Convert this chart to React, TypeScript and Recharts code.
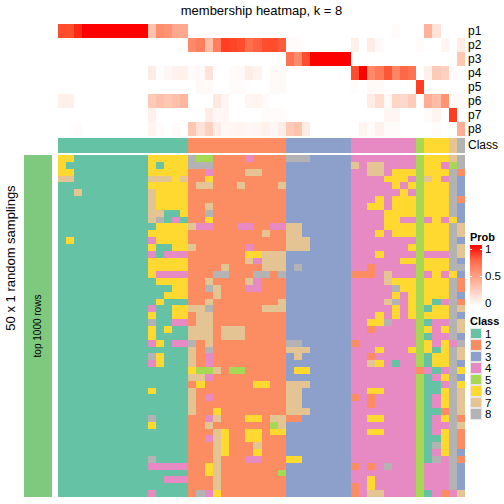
import React from "react";
import { ScatterChart, Scatter, XAxis, YAxis } from "recharts";

const FONT = "'Liberation Sans', Arial, Helvetica, sans-serif";

// membership probability of each sample (50 columns) for classes 1..8
const p1 = [0.85, 0.85, 0.95, 1, 1, 1, 1, 1, 1, 1, 1, 0.32, 0.58, 0.55, 0.45, 0.45, 0, 0, 0, 0, 0, 0, 0, 0, 0, 0, 0, 0, 0, 0, 0, 0, 0, 0, 0, 0, 0, 0, 0, 0, 0, 0.02, 0, 0, 0, 0.4, 0.15, 0, 0, 0];
const p2 = [0, 0, 0, 0, 0, 0, 0, 0, 0, 0, 0, 0, 0, 0, 0, 0, 0.6, 0.65, 0.35, 0.65, 0.9, 0.88, 0.85, 0.72, 0.78, 0.85, 0.85, 0.8, 0.02, 0.02, 0, 0, 0, 0, 0, 0, 0.08, 0, 0.1, 0.03, 0, 0, 0, 0, 0.02, 0, 0, 0.05, 0, 0.1];
const p3 = [0, 0, 0, 0, 0, 0, 0, 0, 0, 0, 0, 0, 0, 0, 0, 0, 0, 0, 0, 0, 0, 0, 0, 0, 0, 0, 0, 0, 0.7, 0.6, 0.85, 1, 1, 1, 1, 1, 0, 0, 0, 0, 0, 0, 0, 0, 0, 0, 0, 0, 0, 0.3];
const p4 = [0, 0, 0, 0, 0, 0, 0, 0, 0, 0, 0, 0.1, 0.01, 0.04, 0.07, 0.07, 0.02, 0.03, 0.15, 0, 0, 0.02, 0.03, 0.1, 0.06, 0, 0.03, 0.03, 0, 0, 0, 0, 0, 0, 0, 0, 0.85, 1, 0.6, 0.68, 0.82, 0.62, 0.75, 0.7, 0, 0.08, 0.28, 0.25, 0.03, 0];
const p5 = [0, 0, 0, 0, 0, 0, 0, 0, 0, 0, 0, 0, 0, 0, 0, 0, 0, 0.03, 0.03, 0, 0, 0.02, 0.02, 0, 0, 0, 0.03, 0.03, 0, 0, 0, 0, 0, 0, 0, 0, 0.01, 0, 0.03, 0.03, 0, 0, 0, 0, 0.9, 0, 0, 0, 0, 0];
const p6 = [0.08, 0.08, 0, 0, 0, 0, 0, 0, 0, 0, 0, 0.28, 0.33, 0.3, 0.33, 0.38, 0, 0, 0, 0.12, 0.05, 0, 0, 0.05, 0.06, 0.02, 0, 0, 0, 0, 0, 0, 0, 0, 0, 0, 0, 0, 0.1, 0.18, 0.03, 0.22, 0.2, 0.27, 0, 0.42, 0.35, 0.55, 0.03, 0.03];
const p7 = [0, 0, 0, 0, 0, 0, 0, 0, 0, 0, 0, 0.08, 0, 0, 0, 0, 0, 0, 0.1, 0.04, 0.04, 0, 0, 0, 0, 0.02, 0.02, 0.02, 0, 0, 0, 0, 0, 0, 0, 0, 0, 0, 0, 0, 0.05, 0.05, 0, 0, 0, 0.02, 0.06, 0, 0.9, 0];
const p8 = [0, 0, 0.02, 0, 0, 0, 0, 0, 0, 0, 0, 0.06, 0.02, 0, 0.02, 0, 0.3, 0.15, 0.25, 0.1, 0.04, 0.05, 0.06, 0.04, 0.05, 0.07, 0.04, 0.1, 0.28, 0.32, 0.1, 0, 0, 0, 0, 0, 0, 0.06, 0.02, 0.07, 0.02, 0.02, 0, 0, 0, 0, 0.02, 0, 0, 0.42];

const probRows = [p1, p2, p3, p4, p5, p6, p7, p8];
const probLabels = ["p1", "p2", "p3", "p4", "p5", "p6", "p7", "p8"];

// consensus class of each column
const columnClass = [
  1, 1, 1, 1, 1, 1, 1, 1, 1, 1, 1, 1, 1, 1, 1, 1,
  2, 2, 2, 2, 2, 2, 2, 2, 2, 2, 2, 2,
  3, 3, 3, 3, 3, 3, 3, 3,
  4, 4, 4, 4, 4, 4, 4, 4,
  5, 6, 6, 6, 7, 8,
];

const classLabels = ["1", "2", "3", "4", "5", "6", "7", "8"];
const classColors = ["#66C2A5", "#FC8D62", "#8DA0CB", "#E78AC3", "#A6D854", "#FFD92F", "#E5C494", "#B3B3B3"];

// class assigned in each of the 50 random samplings (one string per sampling, one digit per column)
const samplingRows = [
  "66111111111 66666 855222242 222 88833333 44444444 5 666 7 8",
  "61111111111 61666 888222222 222 33333333 74774444 5 664 5 8",
  "66111111111 66666 224222277 222 33333333 44774666 5 666 8 2",
  "77111111111 77767 226222222 222 33333333 44446664 5 764 8 3",
  "11111111111 66666 277222722 227 33333333 44444646 5 666 8 3",
  "11711111111 76666 222222222 222 33333333 44444464 5 666 8 3",
  "11111111111 76666 222222222 222 33333333 44464666 5 666 8 2",
  "11111111111 76666 227222222 222 33333333 44664666 5 666 8 3",
  "11111111111 77116 228222222 222 33333333 44446666 5 666 8 3",
  "11111111111 78141 226222222 222 33333333 44446644 5 464 6 3",
  "11111111111 16666 744222442 244 77333333 44446666 5 666 8 7",
  "11111111111 66666 222222222 722 77333333 44464666 5 666 8 7",
  "16111111111 46666 222222222 222 77733333 44444444 5 666 8 3",
  "11111111111 61166 722222242 222 77733333 44444446 5 666 8 7",
  "11111111111 41444 222222266 777 33333333 44464444 5 444 8 7",
  "11111111111 66666 222222274 777 33333333 44444466 5 666 8 3",
  "11111111111 66666 222272222 777 38333333 44244444 5 666 8 8",
  "11111111111 64444 222882228 828 33333333 22247444 5 464 6 3",
  "11111111111 16666 227222274 222 33333333 44447666 5 666 8 2",
  "11111111111 11166 228722244 222 33333333 44444866 5 666 8 2",
  "11111111111 11666 222722222 222 33333333 44444646 5 666 8 3",
  "11111111111 16111 227222222 227 33333333 44447846 5 614 8 2",
  "11111111111 41166 778222222 777 33333333 44444646 5 166 8 7",
  "11111111111 61166 277222222 222 33333333 44464646 5 666 8 3",
  "11111111111 81144 277222222 222 33333333 44668444 5 144 8 7",
  "11111111111 61611 777277722 222 33333333 44244444 5 646 8 7",
  "11111111111 61111 777277722 222 33333333 44444444 5 144 8 3",
  "11111111111 46144 827222222 222 88333333 24444444 5 646 4 8",
  "11111111111 11111 728222222 222 77733333 44464446 5 616 8 7",
  "11111111111 86111 724222222 222 37333333 44244444 5 166 8 7",
  "11111111111 46111 724222222 222 33333333 44764144 5 166 8 3",
  "11111111111 11111 655725522 222 36633333 44444444 2 414 8 6",
  "11111111111 11111 774222222 222 33333333 44444444 5 146 8 3",
  "11111111111 11111 262222226 622 77733333 44444444 5 114 8 6",
  "11111111111 61111 722222222 222 77333333 44664444 5 116 8 7",
  "11111111111 11111 724222222 222 77333333 24244444 5 146 8 7",
  "11111111111 11111 722222222 222 77333333 44244444 5 146 8 7",
  "11111111111 11111 722622222 222 77733333 44444444 5 112 8 7",
  "11111111111 81111 224722266 277 22333333 44664444 5 146 8 2",
  "11111111111 61111 227222222 257 33333333 44444444 5 144 8 7",
  "11111111111 11111 222762266 266 33333333 44664444 5 146 8 2",
  "11111111111 11111 224762266 222 33333333 44444444 5 116 8 2",
  "11111111111 11111 222762227 222 33333333 44444444 5 186 8 2",
  "11111111111 11111 222762226 222 33333333 44444444 5 146 8 3",
  "11111111111 81111 222722244 222 66333333 44444444 5 184 8 2",
  "11111111111 44444 226722222 222 33333333 24248444 5 444 8 3",
  "11111111111 11111 226722222 225 33333333 44444444 5 444 8 3",
  "11111111111 11444 222722222 222 33333333 44644444 5 444 8 3",
  "11111111111 11111 222722222 222 33333333 24644444 5 444 8 3",
  "11111111111 41111 284622222 222 33333333 24774444 5 142 4 7",
];

// white -> red ramp interpolated in LAB, like colorRamp2
const toLin = (c: number) => {
  const v = c / 255;
  return v <= 0.04045 ? v / 12.92 : Math.pow((v + 0.055) / 1.055, 2.4);
};
const fromLin = (c: number) => {
  const v = c <= 0.0031308 ? 12.92 * c : 1.055 * Math.pow(Math.max(c, 0), 1 / 2.4) - 0.055;
  return Math.round(Math.max(0, Math.min(1, v)) * 255);
};
const labF = (t: number) => (t > 0.008856 ? Math.cbrt(t) : 7.787 * t + 16 / 116);
const labInv = (t: number) => (t * t * t > 0.008856 ? t * t * t : (t - 16 / 116) / 7.787);

function rgbToLab(r: number, g: number, b: number) {
  const R = toLin(r), G = toLin(g), B = toLin(b);
  const X = (0.4124 * R + 0.3576 * G + 0.1805 * B) / 0.95047;
  const Y = 0.2126 * R + 0.7152 * G + 0.0722 * B;
  const Z = (0.0193 * R + 0.1192 * G + 0.9505 * B) / 1.08883;
  const fx = labF(X), fy = labF(Y), fz = labF(Z);
  return [116 * fy - 16, 500 * (fx - fy), 200 * (fy - fz)];
}

function labToCss(L: number, a: number, b: number) {
  const fy = (L + 16) / 116;
  const fx = fy + a / 500;
  const fz = fy - b / 200;
  const X = labInv(fx) * 0.95047, Y = labInv(fy), Z = labInv(fz) * 1.08883;
  const R = 3.2406 * X - 1.5372 * Y - 0.4986 * Z;
  const G = -0.9689 * X + 1.8758 * Y + 0.0415 * Z;
  const B = 0.0557 * X - 0.204 * Y + 1.057 * Z;
  return `rgb(${fromLin(R)},${fromLin(G)},${fromLin(B)})`;
}

const labWhite = rgbToLab(255, 255, 255);
const labRed = rgbToLab(255, 0, 0);
function probColor(v: number) {
  const t = Math.max(0, Math.min(1, v));
  return labToCss(
    labWhite[0] + (labRed[0] - labWhite[0]) * t,
    labWhite[1] + (labRed[1] - labWhite[1]) * t,
    labWhite[2] + (labRed[2] - labWhite[2]) * t
  );
}

const nCol = columnClass.length;
const probData = probRows.flatMap((row, k) => row.map((v, c) => ({ x: c, y: k, fill: probColor(v) })));
const classData = columnClass.map((cl, c) => ({ x: c, y: 0, fill: classColors[cl - 1] }));
const samplingData = samplingRows.flatMap((s, r) =>
  s.replace(/ /g, "").split("").map((d, c) => ({ x: c, y: r, fill: classColors[Number(d) - 1] }))
);

const HM_LEFT = 58;
const HM_WIDTH = 407;
const cellW = HM_WIDTH / nCol;

// each cell is centred on its (x, y) point from the chart scales; slight overlap hides seams
const cellShape = (h: number) => (props: any) => {
  const { cx, cy, payload } = props;
  if (cx == null || cy == null) return null;
  return (
    <rect
      x={cx - cellW / 2}
      y={cy - h / 2}
      width={cellW + 0.6}
      height={h + 0.6}
      fill={payload.fill}
      stroke="none"
      shapeRendering="crispEdges"
    />
  );
};

function Heat({ data, rows, top, height }: { data: any[]; rows: number; top: number; height: number }) {
  return (
    <div style={{ position: "absolute", left: HM_LEFT, top, width: HM_WIDTH, height, overflow: "hidden" }}>
      <ScatterChart width={HM_WIDTH} height={height} margin={{ top: 0, right: 0, bottom: 0, left: 0 }}>
        <XAxis type="number" dataKey="x" domain={[-0.5, nCol - 0.5]} allowDataOverflow hide />
        <YAxis type="number" dataKey="y" domain={[-0.5, rows - 0.5]} allowDataOverflow reversed hide />
        <Scatter data={data} shape={cellShape(height / rows)} isAnimationActive={false} />
      </ScatterChart>
    </div>
  );
}

const txt = (style: React.CSSProperties): React.CSSProperties => ({
  position: "absolute",
  fontFamily: FONT,
  color: "#000",
  whiteSpace: "nowrap",
  lineHeight: 1,
  ...style,
});

export default function App() {
  const rowH = 14;
  const probTop = 24;
  const gradStops = [0, 0.25, 0.5, 0.75, 1].map((v) => probColor(v)).join(", ");
  return (
    <div style={{ position: "fixed", left: 0, top: 0, width: 504, height: 504, background: "#fff", overflow: "hidden" }}>
      <div style={txt({ left: HM_LEFT, width: HM_WIDTH, top: 4, fontSize: 13, textAlign: "center" })}>
        membership heatmap, k = 8
      </div>

      <Heat data={probData} rows={8} top={probTop} height={rowH * 8} />
      <Heat data={classData} rows={1} top={138} height={15} />
      <Heat data={samplingData} rows={samplingRows.length} top={155} height={342} />

      {probLabels.map((lab, k) => (
        <div key={lab} style={txt({ left: 468, top: probTop + rowH * k + 1, fontSize: 12 })}>
          {lab}
        </div>
      ))}
      <div style={txt({ left: 468, top: 139, fontSize: 12 })}>Class</div>

      {/* row annotation */}
      <div style={{ position: "absolute", left: 24, top: 155, width: 28, height: 342, background: "#7FC97F" }} />
      <div style={txt({ left: 38, top: 326, fontSize: 10, transform: "translate(-50%, -50%) rotate(-90deg)" })}>
        top 1000 rows
      </div>
      <div style={txt({ left: 10, top: 258, fontSize: 13, transform: "translate(-50%, -50%) rotate(-90deg)" })}>
        50 x 1 random samplings
      </div>

      {/* legends */}
      <div style={txt({ left: 470, top: 232, fontSize: 11, fontWeight: "bold" })}>Prob</div>
      <div
        style={{
          position: "absolute",
          left: 470,
          top: 245,
          width: 12,
          height: 61,
          background: `linear-gradient(to top, ${gradStops})`,
        }}
      />
      {[
        { lab: "1", y: 249 },
        { lab: "0.5", y: 276 },
        { lab: "0", y: 303 },
      ].map((t) => (
        <React.Fragment key={t.lab}>
          <div style={{ position: "absolute", left: 470, top: t.y, width: 2, height: 1, background: "#fff" }} />
          <div style={{ position: "absolute", left: 480, top: t.y, width: 2, height: 1, background: "#fff" }} />
          <div style={txt({ left: 485, top: t.y - 5, fontSize: 11.5 })}>{t.lab}</div>
        </React.Fragment>
      ))}

      <div style={txt({ left: 470, top: 316, fontSize: 11, fontWeight: "bold" })}>Class</div>
      {classLabels.map((lab, i) => (
        <React.Fragment key={lab}>
          <div
            style={{
              position: "absolute",
              left: 470,
              top: 328 + i * 11.45,
              width: 12,
              height: 11.45,
              boxSizing: "border-box",
              border: "1px solid #e6e6e6",
              background: classColors[i],
            }}
          />
          <div style={txt({ left: 485, top: 328 + i * 11.45 + 1, fontSize: 11.5 })}>{lab}</div>
        </React.Fragment>
      ))}
    </div>
  );
}
